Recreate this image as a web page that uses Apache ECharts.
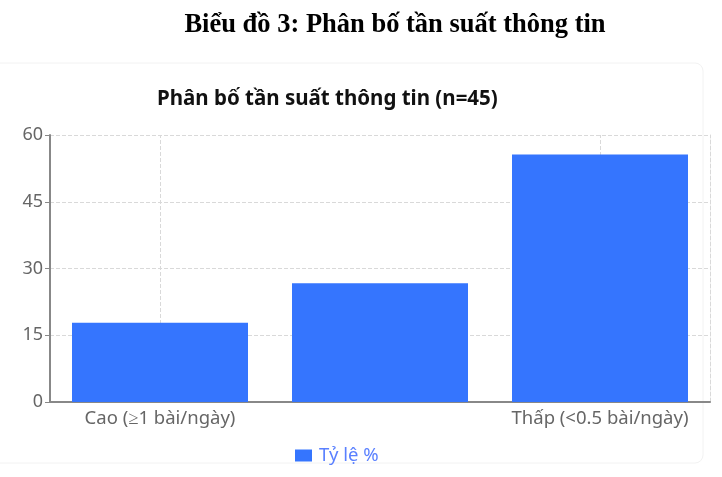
<!DOCTYPE html>
<html><head><meta charset="utf-8">
<script src="https://cdn.jsdelivr.net/npm/echarts@6/dist/echarts.min.js"></script>
<style>html,body{margin:0;padding:0;background:#fff}#c{width:722px;height:477px}</style>
</head><body><div id="c"></div>
<script>
const categories = ['Cao (≥1 bài/ngày)', 'Trung bình (0.5–1 bài/ngày)', 'Thấp (<0.5 bài/ngày)'];
const percentValues = [17.8, 26.7, 55.6];
const seriesName = 'Tỷ lệ %';
const headerTitle = 'Biểu đồ 3: Phân bố tần suất thông tin';
const chartTitle = 'Phân bố tần suất thông tin (n=45)';
const gridLineCategories = [categories[0], categories[2]];

const chart = echarts.init(document.getElementById('c'), null, {renderer: 'canvas'});
chart.setOption({
  backgroundColor: '#fff',
  animation: false,
  graphic: [{
    type: 'rect', z: -1, shape: {x: -10, y: 63, width: 713, height: 400, r: 8},
    style: {fill: 'none', stroke: '#f2f2f2', lineWidth: 1}
  }],
  title: [{
    text: headerTitle, left: 390, textAlign: 'center', top: 7,
    textStyle: {fontFamily: 'Liberation Serif', fontWeight: 'bold', fontSize: 26.5, color: '#000'}
  }, {
    text: chartTitle, left: 152, top: 84,
    textStyle: {fontFamily: 'Noto Sans', fontWeight: 'bold', fontSize: 20.5, color: '#111'}
  }],
  legend: {
    data: [seriesName], left: 290, top: 441, itemWidth: 17, itemHeight: 12, icon: 'rect', itemGap: 5,
    textStyle: {fontFamily: 'Noto Sans', fontSize: 18.5, color: '#5a80ff', padding: [0, 0, 0, 2]}
  },
  grid: {left: 50, right: 12, top: 135, bottom: 75, containLabel: false},
  xAxis: {
    type: 'category', data: categories,
    axisLine: {lineStyle: {color: '#888', width: 2}},
    axisTick: {alignWithLabel: true, interval: 1, length: 6, lineStyle: {color: '#888'}},
    axisLabel: {interval: 1, fontFamily: 'Noto Sans', fontSize: 18.5, color: '#666', margin: 7},
    splitLine: {show: false}
  },
  yAxis: [{
    type: 'value', min: 0, max: 60, interval: 15,
    axisLine: {show: true, lineStyle: {color: '#888', width: 2}},
    axisTick: {show: true, length: 5, lineStyle: {color: '#888'}},
    axisLabel: {fontFamily: 'Noto Sans', fontSize: 18, color: '#666', margin: 7},
    splitLine: {lineStyle: {type: 'dashed', color: '#d9d9d9'}}
  }, {
    type: 'value', min: 0, max: 60, interval: 15, position: 'right',
    axisLine: {show: true, lineStyle: {color: '#d9d9d9', type: 'dashed'}},
    axisTick: {show: false}, axisLabel: {show: false}, splitLine: {show: false}
  }],
  series: [{
    name: seriesName, type: 'bar', data: percentValues, barWidth: '80%', z: 3,
    itemStyle: {color: '#3575fe'},
    markLine: {
      silent: true, symbol: 'none', z: 1, label: {show: false},
      lineStyle: {type: 'dashed', color: '#d9d9d9', width: 1},
      data: gridLineCategories.map(c => ({xAxis: c}))
    }
  }]
});
</script></body></html>
